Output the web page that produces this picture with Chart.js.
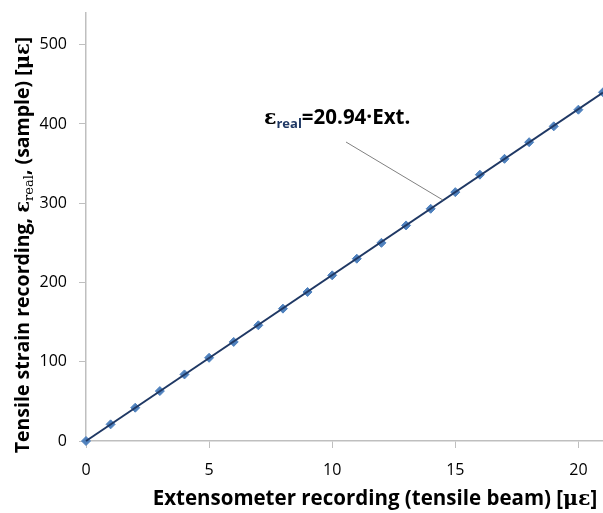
<!DOCTYPE html>
<html>
<head>
<meta charset="utf-8">
<script src="https://cdn.jsdelivr.net/npm/chart.js@4"></script>
<style>
  html, body { margin: 0; padding: 0; background: #fff; }
  #wrap { width: 603px; height: 513px; }
</style>
</head>
<body>
<div id="wrap"><canvas id="strainChart" width="603" height="513"></canvas></div>
<script>
// extensometer readings (x) and sample strain (y)
const extReadings = [0, 1, 2, 3, 4, 5, 6, 7, 8, 9, 10, 11, 12, 13, 14, 15, 16, 17, 18, 19, 20, 21];
const realStrain = [0, 21, 42, 63, 84, 105, 125, 146, 167, 188, 209, 230, 250, 272, 293, 314, 336, 356, 377, 397, 418, 440];
// fitted line end points
const fitX = [0, 21];
const fitY = [0, 439.7];
const xTicks = [0, 5, 10, 15, 20];
const yTicks = [0, 100, 200, 300, 400, 500];

const sans = "'Open Sans', sans-serif";
const serif = "'DejaVu Serif', 'Liberation Serif', serif";

// draws a list of [text, font, color, dy] pieces one after another
function drawPieces(ctx, pieces, x, y) {
  let cx = x;
  pieces.forEach(p => {
    ctx.font = p[1];
    ctx.fillStyle = p[2] || '#000';
    ctx.fillText(p[0], cx, y + (p[3] || 0));
    cx += ctx.measureText(p[0]).width;
  });
}
function piecesWidth(ctx, pieces) {
  let w = 0;
  pieces.forEach(p => { ctx.font = p[1]; w += ctx.measureText(p[0]).width; });
  return w;
}

const titlesPlugin = {
  id: 'titles',
  afterDraw(chart) {
    const ctx = chart.ctx;
    const xs = chart.scales.x, ys = chart.scales.y;
    ctx.save();
    ctx.textBaseline = 'alphabetic';
    ctx.textAlign = 'left';

    // x axis title
    const xt = [
      ['Extensometer recording (tensile beam) [', 'bold 20.5px ' + sans],
      ['με', 'bold 20.5px ' + serif],
      [']', 'bold 20.5px ' + sans]
    ];
    const xw = piecesWidth(ctx, xt);
    drawPieces(ctx, xt, 375 - xw / 2, 505);

    // y axis title
    const yt = [
      ['Tensile strain recording, ', 'bold 19.5px ' + sans],
      ['ε', 'bold 19.5px ' + serif],
      ['real', '13px ' + serif, '#000', 4],
      [', (sample) [', 'bold 19.5px ' + sans],
      ['με', 'bold 19.5px ' + serif],
      [']', 'bold 19.5px ' + sans]
    ];
    const yw = piecesWidth(ctx, yt);
    ctx.save();
    ctx.translate(29, 245);
    ctx.rotate(-Math.PI / 2);
    drawPieces(ctx, yt, -yw / 2, 0);
    ctx.restore();

    // equation label with leader line
    const ax = xs.getPixelForValue(14.5), ay = ys.getPixelForValue(304);
    ctx.strokeStyle = '#808080';
    ctx.lineWidth = 1;
    ctx.beginPath();
    ctx.moveTo(346, 142);
    ctx.lineTo(ax, ay);
    ctx.stroke();

    drawPieces(ctx, [
      ['ε', 'bold 20.5px ' + serif],
      ['real', 'bold 13px ' + sans, '#1F3864', 4],
      ['=20.94·Ext.', 'bold 20.5px ' + sans]
    ], 264, 124);
    ctx.restore();
  }
};

const ctx = document.getElementById('strainChart').getContext('2d');
new Chart(ctx, {
  type: 'scatter',
  data: {
    datasets: [{
      label: 'fit',
      data: fitX.map((x, i) => ({ x: x, y: fitY[i] })),
      showLine: true,
      borderColor: '#1F3864',
      borderWidth: 2,
      pointRadius: 0,
      clip: false,
      order: 1
    }, {
      label: 'measured',
      data: extReadings.map((x, i) => ({ x: x, y: realStrain[i] })),
      showLine: false,
      pointStyle: 'rectRot',
      pointRadius: 4.5,
      backgroundColor: '#4F81BD',
      borderColor: '#4F81BD',
      borderWidth: 1,
      clip: false,
      order: 2
    }]
  },
  options: {
    responsive: false,
    animation: false,
    layout: { autoPadding: false, padding: { top: 13, right: 0, left: 0, bottom: 0 } },
    plugins: { legend: { display: false }, tooltip: { enabled: false } },
    scales: {
      x: {
        type: 'linear',
        min: 0,
        max: 21,
        afterBuildTicks: s => { s.ticks = xTicks.map(v => ({ value: v })); },
        afterFit: s => { s.height = 72; s.paddingRight = 0; s.paddingLeft = 0; },
        grid: { drawOnChartArea: false, drawTicks: true, tickLength: 7, color: '#bfbfbf' },
        border: { color: '#bfbfbf', width: 1.5 },
        ticks: { color: '#000', font: { family: sans, size: 16 }, padding: 13, maxRotation: 0 }
      },
      y: {
        type: 'linear',
        min: 0,
        max: 540,
        afterBuildTicks: s => { s.ticks = yTicks.map(v => ({ value: v })); },
        afterFit: s => { s.width = 86; s.paddingTop = 0; s.paddingBottom = 0; },
        grid: { drawOnChartArea: false, drawTicks: true, tickLength: 7, color: '#bfbfbf' },
        border: { color: '#bfbfbf', width: 1.5 },
        ticks: { color: '#000', font: { family: sans, size: 16 }, padding: 12 }
      }
    }
  },
  plugins: [titlesPlugin]
});
</script>
</body>
</html>
